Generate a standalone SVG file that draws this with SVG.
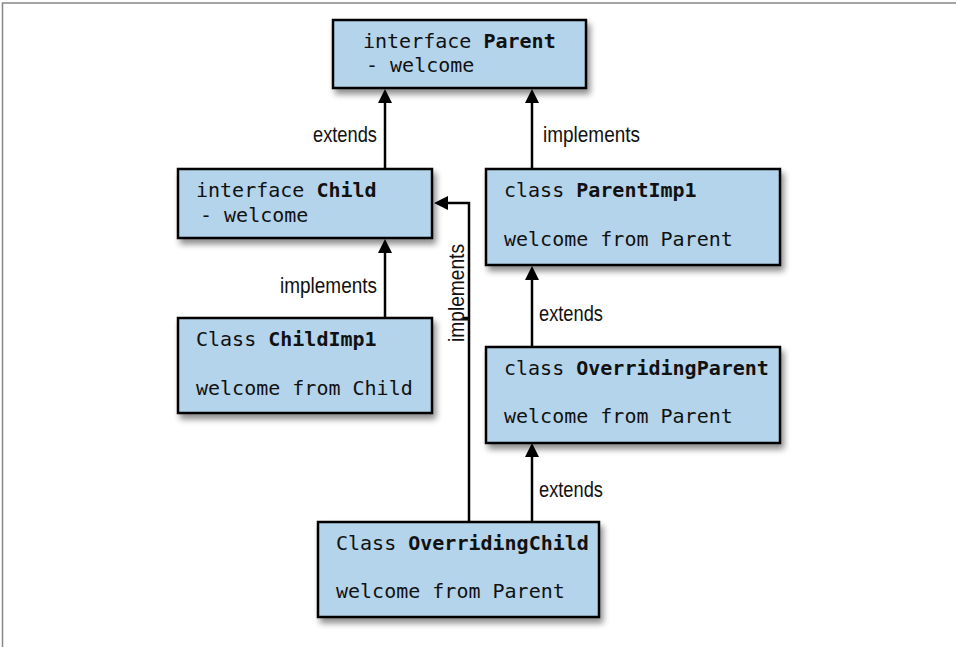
<svg xmlns="http://www.w3.org/2000/svg" width="956" height="647" viewBox="0 0 956 647">
<defs>
<filter id="sh" x="-10%" y="-10%" width="130%" height="140%">
<feGaussianBlur in="SourceAlpha" stdDeviation="3"/>
<feOffset dx="3" dy="5" result="b"/>
<feComponentTransfer><feFuncA type="linear" slope="0.45"/></feComponentTransfer>
<feMerge><feMergeNode/><feMergeNode in="SourceGraphic"/></feMerge>
</filter>
</defs>
<style>
.box{fill:#b3d4ea;stroke:#000;stroke-width:2.5;filter:url(#sh)}
.m{font-family:"DejaVu Sans Mono","Liberation Mono",monospace;font-size:20px;fill:#111}
.b{font-weight:bold}
.lbl{font-family:"Liberation Sans","DejaVu Sans",sans-serif;font-size:22px;fill:#111}
.c{fill:none;stroke:#000;stroke-width:2.5}
</style>
<rect width="956" height="647" fill="#fff"/>
<path d="M2.5,647 V3 H956" fill="none" stroke="#888" stroke-width="1.5"/>
<g id="connectors">
<path class="c" d="M385,168 V101"/>
<path d="M385,89 l-7,14 h14 z"/>
<path class="c" d="M532,168 V101"/>
<path d="M532,89 l-7,14 h14 z"/>
<path class="c" d="M385,318 V251"/>
<path d="M385,239 l-7,14 h14 z"/>
<path class="c" d="M532,347 V278"/>
<path d="M532,266 l-7,14 h14 z"/>
<path class="c" d="M532,521 V455"/>
<path d="M532,443 l-7,14 h14 z"/>
<path class="c" d="M469,521 V203 H446"/>
<path d="M434,203 l14,-7 v14 z"/>
<path class="c" d="M463,318 H469" stroke-width="1.5"/>
<text class="lbl" x="377" y="142" text-anchor="end" textLength="64" lengthAdjust="spacingAndGlyphs">extends</text>
<text class="lbl" x="543" y="142" textLength="97" lengthAdjust="spacingAndGlyphs">implements</text>
<text class="lbl" x="377" y="293" text-anchor="end" textLength="97" lengthAdjust="spacingAndGlyphs">implements</text>
<text class="lbl" x="539" y="321" textLength="64" lengthAdjust="spacingAndGlyphs">extends</text>
<text class="lbl" x="539" y="497" textLength="64" lengthAdjust="spacingAndGlyphs">extends</text>
<text class="lbl" transform="translate(464,342) rotate(-90)" textLength="98" lengthAdjust="spacingAndGlyphs">implements</text>
</g>
<g id="parent">
<rect class="box" x="333" y="20" width="253" height="68"/>
<text class="m" x="363" y="48">interface <tspan class="b">Parent</tspan></text>
<text class="m" x="366" y="72">- welcome</text>
</g>
<g id="child">
<rect class="box" x="178" y="169" width="254" height="69"/>
<text class="m" x="196" y="197">interface <tspan class="b">Child</tspan></text>
<text class="m" x="200" y="222">- welcome</text>
</g>
<g id="parentImp1">
<rect class="box" x="486" y="169" width="294" height="96"/>
<text class="m" x="504" y="197">class <tspan class="b">ParentImp1</tspan></text>
<text class="m" x="504" y="246">welcome from Parent</text>
</g>
<g id="childImp1">
<rect class="box" x="178" y="318" width="254" height="95"/>
<text class="m" x="196" y="346">Class <tspan class="b">ChildImp1</tspan></text>
<text class="m" x="196" y="395">welcome from Child</text>
</g>
<g id="overridingParent">
<rect class="box" x="486" y="347" width="294" height="96"/>
<text class="m" x="504" y="375">class <tspan class="b">OverridingParent</tspan></text>
<text class="m" x="504" y="423">welcome from Parent</text>
</g>
<g id="overridingChild">
<rect class="box" x="318" y="522" width="281" height="95"/>
<text class="m" x="336" y="550">Class <tspan class="b">OverridingChild</tspan></text>
<text class="m" x="336" y="598">welcome from Parent</text>
</g>
</svg>
